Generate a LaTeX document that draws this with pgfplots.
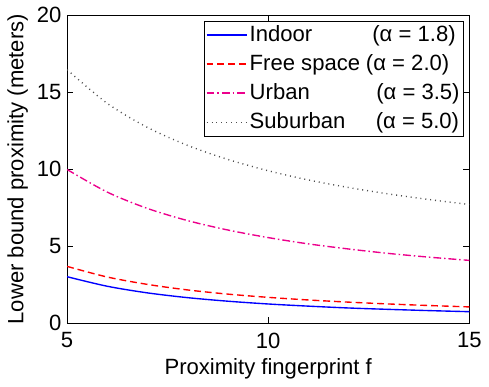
\documentclass[border=0pt]{standalone}
\usepackage{fontspec}
\setmainfont{Liberation Sans}
\usepackage{pgfplots}
\pgfplotsset{compat=1.18}
\begin{document}
\fontsize{22.5}{27}\selectfont
\begin{tikzpicture}
\begin{axis}[
  scale only axis,
  width=410pt, height=314pt,
  xmin=5, xmax=15, ymin=0, ymax=20,
  xtick={5,10,15}, ytick={0,5,10,15,20},
  tick align=inside, tick pos=both,
  major tick length=6pt,
  axis line style={line width=0.9pt},
  every tick/.style={black, line width=0.7pt},
  /pgf/number format/assume math mode=true,
  tick label style={font=\fontsize{22.5}{27}\selectfont},
  label style={font=\fontsize{22.5}{27}\selectfont},
  xlabel={Proximity fingerprint f},
  ylabel={Lower bound proximity (meters)},
  xticklabel style={yshift=-2pt},
  yticklabel style={xshift=2pt},
  xlabel style={yshift=5pt},
  ylabel style={yshift=-6pt},
  legend style={at={(0.986,0.98)}, anchor=north east,
    font=\fontsize{22.5}{27}\selectfont, row sep=6pt, inner sep=2pt, cells={anchor=west}},
  legend cell align=left,
  legend image code/.code={\draw[#1, line width=1.9pt] (0pt,0pt) -- (41pt,0pt);},
]
\addplot[draw=blue, line width=1.4pt, smooth] coordinates {
(5,3.02) (6,2.40) (7,1.97) (8,1.66) (9,1.43) (10,1.25) (11,1.11) (12,0.99) (13,0.90) (14,0.82) (15,0.75)};
\addlegendentry{\makebox[125pt][l]{Indoor}(α = 1.8)}
\addplot[draw=red, line width=1.4pt, dash pattern=on 7pt off 4pt, smooth] coordinates {
(5,3.69) (6,3.00) (7,2.52) (8,2.16) (9,1.89) (10,1.68) (11,1.51) (12,1.37) (13,1.25) (14,1.15) (15,1.06)};
\addlegendentry{\makebox[118.5pt][l]{Free space}(α = 2.0)}
\addplot[draw=magenta, line width=1.4pt, dash pattern=on 8pt off 3pt on 1.5pt off 3pt, smooth] coordinates {
(5,9.98) (6,8.51) (7,7.45) (8,6.66) (9,6.05) (10,5.56) (11,5.15) (12,4.82) (13,4.53) (14,4.29) (15,4.08)};
\addlegendentry{\makebox[129pt][l]{Urban}(α = 3.5)}
\addplot[draw=black!70, line width=1.4pt, dash pattern=on 1pt off 4pt, smooth] coordinates {
(5,16.46) (6,14.27) (7,12.71) (8,11.54) (9,10.63) (10,9.90) (11,9.30) (12,8.81) (13,8.39) (14,8.03) (15,7.71)};
\addlegendentry{\makebox[128.5pt][l]{Suburban}(α = 5.0)}
\end{axis}
\end{tikzpicture}
\end{document}
